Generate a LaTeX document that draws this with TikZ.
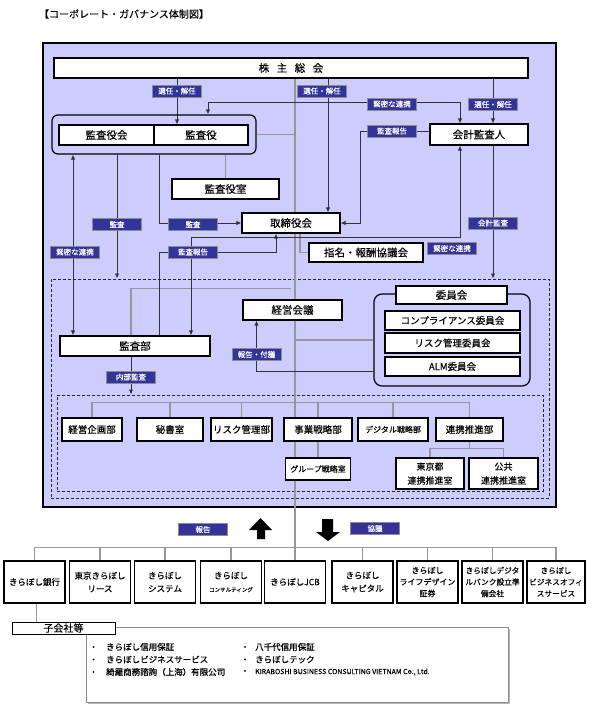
\documentclass[tikz,border=0pt]{standalone}
\usepackage{fontspec}
\setmainfont{Noto Sans CJK JP}[FakeBold=0.35]
\usepackage{tikz}
\usetikzlibrary{arrows.meta,backgrounds,shadows}
\definecolor{Panel}{RGB}{204,204,255}
\definecolor{Navy}{RGB}{51,51,153}
\definecolor{Wire}{RGB}{150,150,150}
\newcommand\fsz[2]{\fontsize{#1}{#2}\selectfont}
\tikzset{
  box/.style={draw=black,line width=1.1pt,fill=white,inner sep=0pt,
              font=\fsz{10.5}{12}},
  grp/.style={draw=black,line width=1.2pt,inner sep=0pt},
  sect/.style={box,font=\fsz{9.5}{12},minimum height=23pt},
  firm/.style={box,align=center,minimum width=61pt,minimum height=42pt,
               font=\fsz{8.5}{13}},
  tag/.style={draw=black!45,fill=Navy,text=white,inner sep=0pt,
              minimum width=49pt,minimum height=12pt,font=\fsz{7.5}{8}},
  dashbox/.style={draw=black!85,line width=1pt,dash pattern=on 3pt off 2pt,inner sep=0pt},
  gline/.style={line width=1.5pt,Wire},
  aline/.style={line width=0.9pt,black!80,-{Latex[length=5pt,width=4.5pt]}},
  twoway/.style={line width=0.9pt,black!80,
                 {Latex[length=5pt,width=4.5pt]}-{Latex[length=5pt,width=4.5pt]}},
  entry/.style={anchor=west,inner sep=0pt,font=\fsz{8.5}{10}},
}
\begin{document}
\begin{tikzpicture}[x=1pt,y=-1pt]
  \useasboundingbox (0,0) rectangle (601,707);
  \node[font=\fsz{10}{12}] (title) at (124,14) {【コーポレート・ガバナンス体制図】};

  % top part
  \node[box,minimum width=474pt,minimum height=20pt] (soukai) at (291,68)
    {株\hspace{7.5pt}主\hspace{7.5pt}総\hspace{7.5pt}会};
  \node[grp,rounded corners=6pt,minimum width=204pt,minimum height=39pt] (kgrp) at (154,134.5) {};
  \node[box,minimum width=95pt,minimum height=20pt] (kyk) at (106.5,135) {監査役会};
  \node[box,minimum width=94pt,minimum height=20pt] (ky) at (201,135) {監査役};
  \node[box,minimum width=107pt,minimum height=20pt] (kys) at (225.5,189) {監査役室};
  \node[box,minimum width=98pt,minimum height=21pt] (kaikei) at (479,134.5) {会計監査人};
  \node[box,minimum width=98pt,minimum height=20pt] (tori) at (291,223) {取締役会};
  \node[box,minimum width=114pt,minimum height=19pt] (shimei) at (366,252.5) {指名・報酬協議会};

  % execution
  \node[box,minimum width=99pt,minimum height=20pt] (keiei) at (292.5,310) {経営会議};
  \node[box,minimum width=150pt,minimum height=20pt] (kbu) at (135,346) {監査部};
  \node[grp,rounded corners=8pt,minimum width=156pt,minimum height=92pt] (iin) at (452,340) {};
  \node[box,minimum width=111pt,minimum height=18pt] (iinkai) at (451.5,295) {委員会};
  \node[box,font=\fsz{9.5}{12},minimum width=135pt,minimum height=19pt] (comp) at (452.5,320.5) {コンプライアンス委員会};
  \node[box,font=\fsz{9.5}{12},minimum width=135pt,minimum height=20pt] (risk) at (452.5,343) {リスク管理委員会};
  \node[box,font=\fsz{9.5}{12},minimum width=135pt,minimum height=19pt] (alm) at (452.5,366.5) {ALM委員会};

  \node[sect,minimum width=60pt] (kikaku) at (92,429.5) {経営企画部};
  \node[sect,minimum width=66pt] (hisho) at (170,429.5) {秘書室};
  \node[sect,minimum width=61pt] (riskbu) at (241.5,429.5) {リスク管理部};
  \node[sect,minimum width=68pt] (jigyo) at (318,429.5) {事業戦略部};
  \node[sect,minimum width=70pt,font=\fsz{8}{10}] (digital) at (393,429.5) {デジタル戦略部};
  \node[sect,minimum width=67pt] (renkei) at (469.5,429.5) {連携推進部};
  \node[sect,minimum width=65pt,minimum height=22pt,font=\fsz{8}{10}] (grs) at (318,469) {グループ戦略室};
  \node[sect,align=center,minimum width=68pt,minimum height=31pt,font=\fsz{9}{14}] (tokyo) at (430,473.5) {東京都\\連携推進室};
  \node[sect,align=center,minimum width=69pt,minimum height=31pt,font=\fsz{9}{14}] (kokyo) at (503.5,473.5) {公共\\連携推進室};

  % labels
  \node[tag] (l1) at (177,91) {選任・解任};
  \node[tag] (l2) at (322,91) {選任・解任};
  \node[tag] (l3) at (493,104.5) {選任・解任};
  \node[tag] (l4) at (392,104) {緊密な連携};
  \node[tag] (l5) at (392,131) {監査報告};
  \node[tag] (l6) at (117,224.5) {監査};
  \node[tag] (l7) at (193,224.5) {監査};
  \node[tag] (l8) at (493,223) {会計監査};
  \node[tag] (l9) at (75,252) {緊密な連携};
  \node[tag] (l10) at (193,252) {監査報告};
  \node[tag] (l11) at (452,248.5) {緊密な連携};
  \node[tag] (l12) at (256.5,354.5) {報告・付議};
  \node[tag] (l13) at (131,377) {内部監査};
  \node[tag] (l14) at (203,529.5) {報告};
  \node[tag] (l15) at (375,528.5) {協議};

  % group companies
  \node[firm] (sub1) at (34.5,582) {きらぼし銀行};
  \node[firm] (sub2) at (100,582) {東京きらぼし\\リース};
  \node[firm] (sub3) at (165,582) {きらぼし\\システム};
  \node[firm] (sub4) at (231,582) {きらぼし\\{\fsz{5.5}{8}コンサルティング}};
  \node[firm] (sub5) at (295,582) {きらぼしJCB};
  \node[firm] (sub6) at (362.5,582) {きらぼし\\キャピタル};
  \node[firm,font=\fsz{8}{11.5}] (sub7) at (427.5,582) {きらぼし\\ライフデザイン\\証券};
  \node[firm,font=\fsz{7.7}{11.5}] (sub8) at (492.5,582) {きらぼしデジタ\\ルバンク設立準\\備会社};
  \node[firm,font=\fsz{7.7}{11.5},minimum width=58pt] (sub9) at (556,582) {きらぼし\\ビジネスオフィ\\スサービス};

  \node[draw=black!45,line width=0.6pt,fill=white,minimum width=422pt,minimum height=75pt,
        drop shadow={shadow xshift=2pt,shadow yshift=-2pt,fill=black!40,opacity=0.7}] (others) at (297,664.5) {};
  \node[box,line width=0.8pt,minimum width=103pt,minimum height=12pt,font=\fsz{10}{12}] (kogaisha) at (63.5,628) {子会社等};
  \node[entry] (li1) at (89,647) {・\hspace{8.5pt}きらぼし信用保証};
  \node[entry] (li2) at (89,659.5) {・\hspace{8.5pt}きらぼしビジネスサービス};
  \node[entry] (li3) at (89,672) {・\hspace{8.5pt}綺羅商務諮詢（上海）有限公司};
  \node[entry] (li4) at (240.5,647) {・\hspace{6pt}八千代信用保証};
  \node[entry] (li5) at (240.5,659.5) {・\hspace{6pt}きらぼしテック};
  \node[entry] (li6) at (240.5,672) {・\hspace{6pt}{\fsz{7}{10}KIRABOSHI BUSINESS CONSULTING VIETNAM Co., Ltd.}};

  \fill (260.5,518) -- (272,530) -- (265,530) -- (265,539) -- (257,539) -- (257,530) -- (249,530) -- cycle;
  \fill (328,541) -- (340,532) -- (333,532) -- (333,519) -- (322,519) -- (322,532) -- (316,532) -- cycle;

  \begin{scope}[on background layer]
    \draw[line width=1.2pt,fill=Panel] (43,43) rectangle (556,507);
    \node[dashbox,minimum width=498pt,minimum height=219pt] (ctl) at (300,388.5) {};
    \node[dashbox,minimum width=486pt,minimum height=96pt] (dept) at (300,443) {};

    \coordinate (sp) at ([xshift=4pt]soukai.south);
    \draw[gline] (sp) -- (sp |- sub5.north);
    \draw[gline] (kgrp.east) -- (kgrp.east -| sp);
    \draw[gline] (kys.north) -- (kys.north |- kgrp.south);
    \draw[gline] ([xshift=9pt]tori.south) |- (shimei.west);
    \coordinate (kb) at ([xshift=-4pt]kbu.north);
    \draw[gline] (kb) |- ([yshift=-55pt]tori.south);
    \draw[gline] (iin.west -| sp) -- (iin.west);
    \coordinate (dtop) at ([yshift=-8pt]dept.north);
    \draw[gline] (kikaku.north) |- (dtop) -| (renkei.north);
    \foreach \d in {hisho,riskbu,jigyo,digital}
      \draw[gline] (\d.north) -- (\d.north |- dtop);
    \draw[gline] (jigyo.south) -- (jigyo.south |- grs.north);
    \draw[gline] (renkei.south) -- ++(0,7);
    \draw[gline] (tokyo.north) |- ([yshift=-7pt]renkei.south) -| (kokyo.north);
    \coordinate (sbar) at ([yshift=13pt]sub5.north);
    \draw[gline] (sub1.north) |- (sbar) -| (sub9.north);
    \foreach \s in {sub2,sub3,sub4,sub6,sub7,sub8}
      \draw[gline] (\s.north) -- (\s.north |- sbar);
    \draw[gline] ([xshift=2pt]sub1.south) -- ([xshift=2pt]sub1.south |- kogaisha.north);

    \coordinate (s1) at ([xshift=-24pt]ky.north);
    \coordinate (s2) at ([xshift=37pt]tori.north);
    \coordinate (s3) at ([xshift=14pt]kaikei.north);
    \draw[aline] (s1 |- soukai.south) -- (s1);
    \draw[aline] (s2 |- soukai.south) -- (s2);
    \draw[aline] (s3 |- soukai.south) -- (s3);
    \draw[aline] (kaikei.south -| s3) -- (ctl.north -| s3);
    \coordinate (k1) at ([xshift=54pt]kgrp.north);
    \coordinate (k2) at ([xshift=-19pt]kaikei.north);
    \draw[twoway] (k1) -- ++(0,-12) -| (k2);
    \draw[aline] ([yshift=3pt]kaikei.west) -- ++(-69,0) |- (tori.east);
    \draw[twoway] ([xshift=56pt]kbu.north) |- ([yshift=-4pt]tori.south) -| (k2 |- kaikei.south);
    \coordinate (a1) at ([xshift=5pt]kgrp.south);
    \coordinate (a2) at ([xshift=-37pt]kgrp.south);
    \coordinate (a3) at ([xshift=-81pt]kgrp.south);
    \draw[aline] (a1) |- (tori.west);
    \draw[aline] (a2) -- (a2 |- ctl.north);
    \draw[twoway] (a3) -- (a3 |- kbu.north);
    \draw[aline] ([xshift=24pt]kbu.north) |- ([xshift=-15pt,yshift=-19pt]tori.south) -- ([xshift=-15pt]tori.south);
    \coordinate (r3) at ([xshift=-4pt]kbu.south);
    \draw[aline] (r3) -- (r3 |- dept.north);
    \draw[aline] ([yshift=-31pt]iin.west) -| ([xshift=-36pt]keiei.south);
  \end{scope}
\end{tikzpicture}
\end{document}
